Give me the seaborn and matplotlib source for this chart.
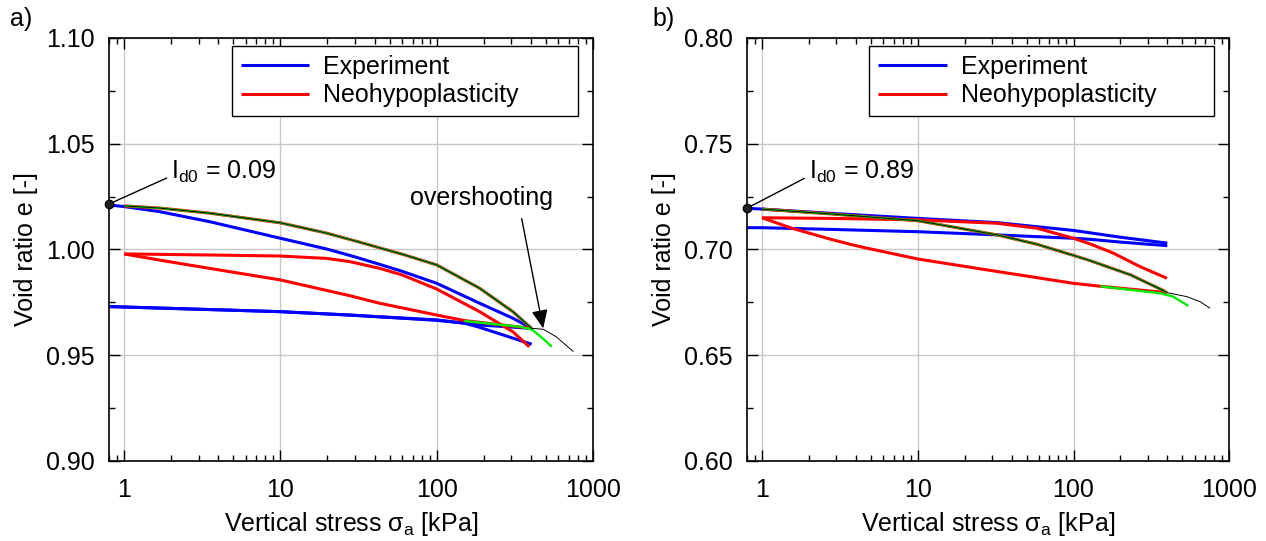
import numpy as np
import pandas as pd
import seaborn as sns
import matplotlib.pyplot as plt
from matplotlib.ticker import MultipleLocator, FixedLocator, FixedFormatter

sns.set_style("ticks")
plt.rcParams['font.family'] = ['Liberation Sans', 'DejaVu Sans']
plt.rcParams['mathtext.fontset'] = 'custom'
plt.rcParams['mathtext.rm'] = 'Liberation Sans'
for k in ['text.color', 'axes.labelcolor', 'xtick.color', 'ytick.color', 'axes.edgecolor']:
    plt.rcParams[k] = 'black'

FS = 18

# ---- panel a) Id0 = 0.09 ----
a_exp_load_x = [0.8, 1, 1.68, 3.5, 10, 19.6, 30, 43, 60, 100, 188, 307, 405]
a_exp_load_e = [1.0210, 1.0203, 1.0179, 1.0132, 1.0053, 1.0003, 0.9965, 0.9930, 0.9897, 0.9840, 0.9746, 0.9675, 0.9627]
a_exp_unload_x = [405, 188, 100, 43, 27.6, 10, 1, 0.8]
a_exp_unload_e = [0.9627, 0.9643, 0.9667, 0.9682, 0.9690, 0.9706, 0.9728, 0.9730]
a_exp_reload_x = [0.8, 1, 10, 27.6, 100, 150, 188, 266, 405]
a_exp_reload_e = [0.9730, 0.9728, 0.9706, 0.9690, 0.9665, 0.9652, 0.9632, 0.9596, 0.9552]

a_nh_load_x = [1, 1.68, 3.5, 10, 19.6, 32, 43, 60, 100, 188, 307, 405]
a_nh_load_e = [1.0206, 1.0196, 1.0172, 1.0126, 1.0078, 1.0035, 1.0008, 0.9978, 0.9927, 0.9817, 0.9706, 0.9627]
a_nh_unload_x = [405, 150, 100, 43, 27.6, 10, 3.5, 1.68, 1]
a_nh_unload_e = [0.9627, 0.9664, 0.9690, 0.9746, 0.9782, 0.9856, 0.9911, 0.9950, 0.9979]
a_nh_reload_x = [1, 3.5, 10, 19.6, 27.6, 43, 60, 100, 188, 307, 391]
a_nh_reload_e = [0.9979, 0.9974, 0.9969, 0.9958, 0.9943, 0.9911, 0.9880, 0.9813, 0.9706, 0.9611, 0.9540]

a_green_x = [150, 241, 339, 405, 435, 490, 545]
a_green_e = [0.9662, 0.9646, 0.9635, 0.9622, 0.9604, 0.9572, 0.9540]
a_black_x = [405, 480, 580, 750]
a_black_e = [0.9627, 0.9623, 0.9588, 0.9517]

# ---- panel b) Id0 = 0.89 ----
b_exp_load_x = [0.8, 1, 2.77, 10, 32.3, 100, 200, 400]
b_exp_load_e = [0.7195, 0.7191, 0.7171, 0.7147, 0.7127, 0.7090, 0.7058, 0.7030]
b_exp_unload_x = [400, 200, 128, 100, 32.3, 10, 2.77, 1, 0.8]
b_exp_unload_e = [0.7018, 0.7035, 0.7048, 0.7053, 0.7069, 0.7084, 0.7095, 0.7103, 0.7103]

b_nh_load_x = [1, 2.77, 10, 32.3, 58, 100, 128, 232, 370, 398]
b_nh_load_e = [0.7191, 0.7168, 0.7136, 0.7069, 0.7025, 0.6972, 0.6947, 0.6880, 0.6809, 0.6796]
b_nh_unload_x = [398, 149, 100, 32.3, 10, 4.53, 3.7, 2.77, 1.53, 1]
b_nh_unload_e = [0.6796, 0.6826, 0.6840, 0.6896, 0.6955, 0.7009, 0.7024, 0.7048, 0.7102, 0.7150]
b_nh_reload_x = [1, 2.77, 10, 32.3, 58.6, 100, 128, 181, 267, 398]
b_nh_reload_e = [0.7150, 0.7147, 0.7140, 0.7124, 0.7100, 0.7053, 0.7026, 0.6982, 0.6919, 0.6864]

b_green_x = [149, 232, 360, 437, 546]
b_green_e = [0.6826, 0.6809, 0.6793, 0.6777, 0.6733]
b_black_x = [398, 534, 650, 753]
b_black_e = [0.6796, 0.6777, 0.6753, 0.6722]

x_ticks = [1, 10, 100, 1000]
x_labels = ["1", "10", "100", "1000"]

BLUE = '#0000ff'
RED = '#ff0000'
GREEN = '#00ee00'


def line(ax, xs, es, color, lw, label=None):
    df = pd.DataFrame({'x': xs, 'e': es})
    sns.lineplot(data=df, x='x', y='e', ax=ax, color=color, lw=lw,
                 sort=False, estimator=None, label=label,
                 solid_capstyle='butt', solid_joinstyle='round', legend=False)


fig = plt.figure(figsize=(12.66, 5.41), dpi=100)
ax_a = fig.add_axes([0.0861, 0.1479, 0.3823, 0.7819])
ax_b = fig.add_axes([0.5900, 0.1479, 0.3810, 0.7819])

panels = [
    (ax_a, (0.90, 1.10), np.arange(0.90, 1.101, 0.05), "0.09", (1.0215, 1.0366),
     [(a_exp_load_x, a_exp_load_e), (a_exp_unload_x, a_exp_unload_e), (a_exp_reload_x, a_exp_reload_e)],
     (a_nh_load_x, a_nh_load_e), [(a_nh_unload_x, a_nh_unload_e), (a_nh_reload_x, a_nh_reload_e)],
     (a_green_x, a_green_e), (a_black_x, a_black_e)),
    (ax_b, (0.60, 0.80), np.arange(0.60, 0.801, 0.05), "0.89", (0.7195, 0.7366),
     [(b_exp_load_x, b_exp_load_e), (b_exp_unload_x, b_exp_unload_e)],
     (b_nh_load_x, b_nh_load_e), [(b_nh_unload_x, b_nh_unload_e), (b_nh_reload_x, b_nh_reload_e)],
     (b_green_x, b_green_e), (b_black_x, b_black_e)),
]

for ax, ylim, yt, idval, (e0, etxt), exp, nh_load, nh_rest, green, black in panels:
    ax.set_xscale('log')
    ax.set_xlim(0.8, 1000)
    ax.set_ylim(*ylim)
    ax.grid(True, which='major', color='#c8c8c8', lw=1)
    ax.set_axisbelow(True)

    for i, (xs, es) in enumerate(exp):
        line(ax, xs, es, BLUE, 2.2, 'Experiment' if i == 0 else None)
    for xs, es in nh_rest:
        line(ax, xs, es, RED, 2.2)
    # loading path: red, green and black overlapped
    line(ax, nh_load[0], nh_load[1], RED, 2.2, 'Neohypoplasticity')
    line(ax, nh_load[0], nh_load[1], GREEN, 1.5)
    line(ax, green[0], green[1], GREEN, 1.7)
    line(ax, list(nh_load[0]) + black[0][1:], list(nh_load[1]) + black[1][1:], 'black', 0.7)

    ax.plot([0.8], [e0], 'o', color='#222222', ms=6, mec='black', clip_on=False, zorder=5)
    ax.annotate(r"I$_\mathregular{d0}$ = " + idval, xy=(0.8, e0), xytext=(2.0, etxt),
                fontsize=FS, ha='left', va='center',
                arrowprops=dict(arrowstyle='-', color='black', lw=1,
                                shrinkA=1, shrinkB=3, relpos=(0, 0.35)))

    ax.xaxis.set_major_locator(FixedLocator(x_ticks))
    ax.xaxis.set_major_formatter(FixedFormatter(x_labels))
    ax.set_yticks(yt)
    ax.set_yticklabels([f"{v:.2f}" for v in yt])
    ax.yaxis.set_minor_locator(MultipleLocator(0.025))
    ax.tick_params(which='both', direction='in', top=True, right=True, labelsize=FS, width=1)
    ax.tick_params(which='major', length=8)
    ax.tick_params(which='minor', length=4)
    ax.tick_params(axis='x', which='major', pad=12)
    ax.tick_params(axis='y', which='major', pad=10)
    for s in ax.spines.values():
        s.set_linewidth(1.2)

    ax.set_xlabel("Vertical stress σ$_\\mathregular{a}$ [kPa]", fontsize=FS, labelpad=6)
    ax.set_ylabel("Void ratio e [-]", fontsize=FS, labelpad=6)

    handles, labels = ax.get_legend_handles_labels()
    ax.legend(handles, labels, loc='upper left', bbox_to_anchor=(0.254, 0.8345, 0.715, 0.1465),
              mode='expand', fontsize=FS, frameon=True, fancybox=False, edgecolor='black',
              framealpha=1, handlelength=2.75, borderpad=0.35, labelspacing=0.18,
              handletextpad=0.55, borderaxespad=0)
    ax.get_legend().get_frame().set_linewidth(1)
    for h in ax.get_legend().get_lines():
        h.set_linewidth(2.2)

ax_a.annotate("overshooting", xy=(480, 0.9627), xytext=(193, 1.0244),
              fontsize=FS, ha='center', va='center',
              arrowprops=dict(arrowstyle='-|>,head_length=0.8,head_width=0.35',
                              color='black', lw=1, mutation_scale=14,
                              shrinkA=4, shrinkB=0, relpos=(0.77, 0)))

fig.text(0.008, 0.965, "a)", fontsize=FS, va='center', ha='left')
fig.text(0.515, 0.965, "b)", fontsize=FS, va='center', ha='left')

fig.savefig("out.png", dpi=100)
